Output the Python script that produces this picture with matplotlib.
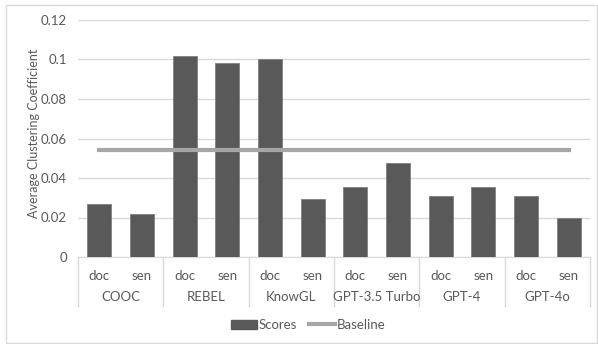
import matplotlib
matplotlib.use("Agg")
import matplotlib.pyplot as plt
from matplotlib.patches import Patch, Rectangle
from matplotlib.lines import Line2D
import matplotlib.transforms as mtrans

groups = ["COOC", "REBEL", "KnowGL", "GPT-3.5 Turbo", "GPT-4", "GPT-4o"]
sub_labels = ["doc", "sen"]
scores = [0.027, 0.022, 0.102, 0.098, 0.100, 0.0295,
          0.0355, 0.0475, 0.031, 0.0355, 0.031, 0.020]
baseline = [0.0543] * 12
yticks = [0, 0.02, 0.04, 0.06, 0.08, 0.1, 0.12]
ytick_labels = ["0", "0.02", "0.04", "0.06", "0.08", "0.1", "0.12"]

plt.rcParams['font.family'] = ['Lato', 'DejaVu Sans']
txt = "#595959"
W, H = 598, 344
fig = plt.figure(figsize=(W / 100, H / 100), dpi=100)
fig.patches.append(Rectangle((6 / W, 1 / H), 591 / W, 338 / H, transform=fig.transFigure,
                             fill=False, edgecolor="#d9d9d9", linewidth=1))
ax = fig.add_axes([78 / W, 87 / H, 512 / W, 237 / H])

x = list(range(len(scores)))
ax.bar(x, scores, width=0.56, color="#595959", edgecolor="#7f7f7f", linewidth=0.6, zorder=3, label="Scores")
ax.plot(x, baseline, color="#a6a6a6", linewidth=3, zorder=4, label="Baseline")

ax.set_xlim(-0.5, len(scores) - 0.5)
ax.set_ylim(0, 0.12)
ax.set_yticks(yticks)
ax.set_yticklabels(ytick_labels)
ax.yaxis.grid(True, color="#d9d9d9", linewidth=1)
ax.set_axisbelow(True)
for s in ["top", "right", "left"]:
    ax.spines[s].set_visible(False)
ax.spines["bottom"].set_color("#d9d9d9")
ax.tick_params(axis="y", length=0, labelsize=9.5, labelcolor=txt, pad=8)
ax.set_xticks(x)
ax.set_xticklabels([sub_labels[i % 2] for i in x])
ax.tick_params(axis="x", length=0, labelsize=9.5, labelcolor=txt, pad=9)
ax.set_ylabel("Average Clustering Coefficient", fontsize=9, color=txt)
ax.yaxis.set_label_coords(-38 / 512, 0.52)

trans = mtrans.blended_transform_factory(ax.transData, ax.transAxes)
depth = 49 / 237
for g in range(len(groups) + 1):
    xb = g * 2 - 0.5
    ax.add_line(Line2D([xb, xb], [0, -depth], transform=trans, color="#d9d9d9",
                       linewidth=1, clip_on=False))
for g, name in enumerate(groups):
    ax.text(g * 2 + 0.5, -40 / 237, name, transform=trans, ha="center", va="center",
            fontsize=9.5, color=txt)

handles = [Patch(facecolor="#595959", edgecolor="#595959"),
           Line2D([0], [0], color="#a6a6a6", linewidth=3)]
fig.legend(handles, ["Scores", "Baseline"], loc="center", bbox_to_anchor=(308 / W, 1 - 325 / H),
           ncol=2, frameon=False, fontsize=9.5, labelcolor=txt, handlelength=2.0,
           handletextpad=0.1, columnspacing=0.9)

fig.savefig("out.png", dpi=100)
